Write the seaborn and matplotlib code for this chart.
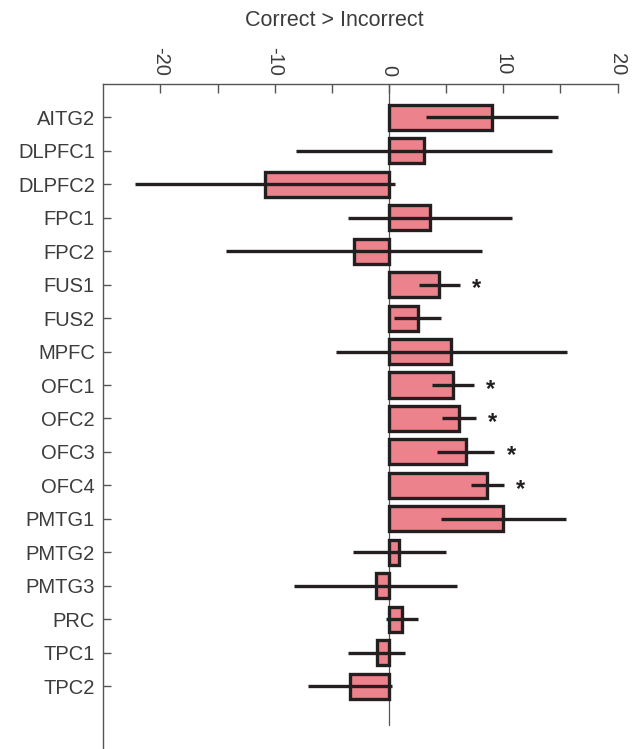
import matplotlib
matplotlib.use("Agg")
import matplotlib.pyplot as plt
import seaborn as sns
import pandas as pd
import numpy as np

# ---- data ----
regions = ["AITG2", "DLPFC1", "DLPFC2", "FPC1", "FPC2", "FUS1", "FUS2", "MPFC",
           "OFC1", "OFC2", "OFC3", "OFC4", "PMTG1", "PMTG2", "PMTG3", "PRC",
           "TPC1", "TPC2"]
means = [9.0, 3.05, -10.85, 3.6, -3.05, 4.4, 2.5, 5.46, 5.6, 6.1, 6.7, 8.6,
         10.0, 0.92, -1.17, 1.13, -1.06, -3.4]
errors = [5.8, 11.2, 11.35, 7.2, 11.2, 1.8, 2.05, 10.1, 1.8, 1.5, 2.5, 1.45,
          5.45, 4.05, 7.15, 1.37, 2.5, 3.65]
significant = [False, False, False, False, False, True, False, False, True,
               True, True, True, False, False, False, False, False, False]
xtick_values = [-20, -10, 0, 10, 20]
xtick_labels = ["-20", "-10", "0", "10", "20"]
minor_xticks = [-15, -5, 5, 15]
axis_title = "Correct > Incorrect"

df = pd.DataFrame({"region": regions, "value": means, "err": errors, "sig": significant})

sns.set_theme(style="white")
plt.rcParams["font.family"] = ["Liberation Sans", "DejaVu Sans"]

text_color = "#3c3c3c"
edge = "#231F20"

fig = plt.figure(figsize=(6.37, 7.49), dpi=100)
ax = fig.add_axes([0.1622, 0.0, 0.8072, 0.8879])

# zero reference line
ax.plot([0, 0], [-1, 18.17], color="#555555", lw=0.9, zorder=0.5)

sns.barplot(data=df, x="value", y="region", orient="h", color="#EC828B",
            saturation=1, width=0.75, edgecolor=edge, linewidth=2.4,
            errorbar=None, ax=ax, zorder=2)

ypos = np.arange(len(df))
ax.errorbar(df["value"], ypos, xerr=df["err"], fmt="none", ecolor=edge,
            elinewidth=2.4, capsize=0, zorder=3)

for y, (v, e, s) in enumerate(zip(df["value"], df["err"], df["sig"])):
    if s:
        ax.text(v + e + 1.5, y + 0.12, "*", ha="center", va="center",
                fontsize=17, fontweight="bold", color=edge)

ax.set_xlim(-25, 20)
ax.set_ylim(18.88, -1)

ax.xaxis.tick_top()
ax.set_xticks(xtick_values)
ax.set_xticklabels(xtick_labels)
ax.set_xticks(minor_xticks, minor=True)
ax.tick_params(axis="x", which="both", direction="in", length=6.5, width=1,
               color="#555555", top=True, bottom=False, labeltop=True,
               labelbottom=False, labelrotation=-90, labelsize=14.5,
               labelcolor=text_color, pad=6)
ax.tick_params(axis="y", which="both", direction="in", length=6, width=1,
               color="#555555", left=True, labelsize=14.5,
               labelcolor=text_color, pad=6)
ax.set_xlabel("")
ax.set_ylabel("")

for side in ["right", "bottom"]:
    ax.spines[side].set_visible(False)
for side in ["top", "left"]:
    ax.spines[side].set_color("#555555")
    ax.spines[side].set_linewidth(1.0)

ax.text(0.449, 1.095, axis_title, transform=ax.transAxes, ha="center",
        va="center", fontsize=15.5, color=text_color)

fig.savefig("out.png", dpi=100)
